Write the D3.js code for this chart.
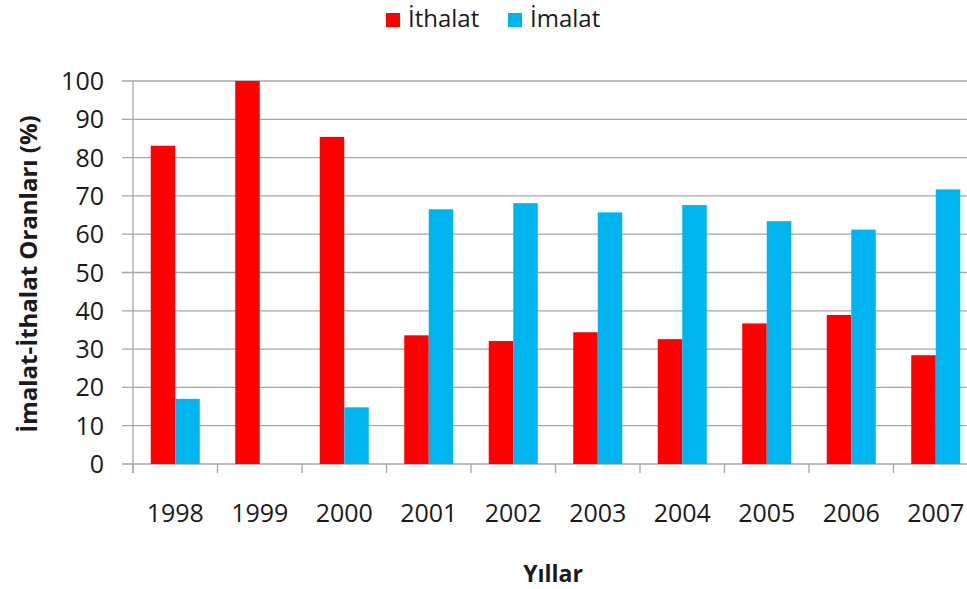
<!DOCTYPE html>
<html>
<head>
<meta charset="utf-8">
<script src="https://cdn.jsdelivr.net/npm/d3@7"></script>
<style>
  body { margin: 0; background: #fff; }
  text { font-family: "Open Sans", "DejaVu Sans", sans-serif; fill: #1a1a1a; }
</style>
</head>
<body>
<div id="chart"></div>
<script>
// Yıllara göre imalat / ithalat oranları
const years = ['1998', '1999', '2000', '2001', '2002', '2003', '2004', '2005', '2006', '2007'];
const seriesNames = ['İthalat', 'İmalat'];
const ithalat = [83.1, 100, 85.4, 33.6, 32.1, 34.4, 32.6, 36.7, 38.9, 28.4];
const imalat = [17.0, 0, 14.8, 66.5, 68.1, 65.7, 67.6, 63.4, 61.2, 71.7];
const yTicks = [0, 10, 20, 30, 40, 50, 60, 70, 80, 90, 100];
const colors = ['#ff0000', '#00b4f0'];

const width = 967, height = 589;
const plot = { left: 133, right: 978, top: 81, bottom: 464 };
const gridColor = '#a6a6a6';

const svg = d3.select('#chart')
    .append('svg')
    .attr('width', width)
    .attr('height', height);

// Scales
const x0 = d3.scaleBand()
    .domain(years)
    .range([plot.left, plot.right])
    .paddingInner(0.42)
    .paddingOuter(0.21);

const x1 = d3.scaleBand()
    .domain(seriesNames)
    .range([0, x0.bandwidth()]);

const y = d3.scaleLinear()
    .domain([0, 100])
    .range([plot.bottom, plot.top]);

// Gridlines + y tick marks
svg.append('g')
    .selectAll('line')
    .data(yTicks)
    .join('line')
    .attr('x1', plot.left - 11)
    .attr('x2', width)
    .attr('y1', d => y(d))
    .attr('y2', d => y(d))
    .attr('stroke', gridColor)
    .attr('stroke-width', 1.3);

// Y axis labels
svg.append('g')
    .selectAll('text')
    .data(yTicks)
    .join('text')
    .attr('x', 104)
    .attr('y', d => y(d))
    .attr('dy', '0.36em')
    .attr('text-anchor', 'end')
    .style('font-size', '25px')
    .text(d => d);

// Vertical axis line
svg.append('line')
    .attr('x1', plot.left).attr('x2', plot.left)
    .attr('y1', plot.top).attr('y2', plot.bottom + 9)
    .attr('stroke', gridColor)
    .attr('stroke-width', 1.3);

// Category tick marks at band boundaries
const step = x0.step();
svg.append('g')
    .selectAll('line')
    .data(years)
    .join('line')
    .attr('x1', d => x0(d) - step * 0.21)
    .attr('x2', d => x0(d) - step * 0.21)
    .attr('y1', plot.bottom)
    .attr('y2', plot.bottom + 9)
    .attr('stroke', gridColor)
    .attr('stroke-width', 1.3);

// Bars
const rows = years.map((yr, i) => ({ year: yr, values: [ithalat[i], imalat[i]] }));

svg.append('g')
    .selectAll('g')
    .data(rows)
    .join('g')
    .attr('transform', d => `translate(${x0(d.year)},0)`)
    .selectAll('rect')
    .data(d => d.values.map((v, k) => ({ key: seriesNames[k], value: v, k })))
    .join('rect')
    .attr('x', d => x1(d.key))
    .attr('width', x1.bandwidth())
    .attr('y', d => y(d.value))
    .attr('height', d => y(0) - y(d.value))
    .attr('fill', d => colors[d.k]);

// X axis labels
svg.append('g')
    .selectAll('text')
    .data(years)
    .join('text')
    .attr('x', d => x0(d) + x0.bandwidth() / 2)
    .attr('y', 522)
    .attr('text-anchor', 'middle')
    .style('font-size', '25px')
    .text(d => d);

// Axis titles
svg.append('text')
    .attr('x', 553)
    .attr('y', 582)
    .attr('text-anchor', 'middle')
    .style('font-size', '23px')
    .style('font-weight', 'bold')
    .text('Yıllar');

svg.append('text')
    .attr('transform', 'translate(37, 274) rotate(-90)')
    .attr('text-anchor', 'middle')
    .style('font-size', '24px')
    .style('font-weight', 'bold')
    .text('İmalat-İthalat Oranları (%)');

// Legend
const legendX = [386, 508];
const legend = svg.append('g')
    .selectAll('g')
    .data(seriesNames)
    .join('g')
    .attr('transform', (d, i) => `translate(${legendX[i]}, 13)`);

legend.append('rect')
    .attr('width', 14)
    .attr('height', 14)
    .attr('fill', (d, i) => colors[i]);

legend.append('text')
    .attr('x', 22)
    .attr('y', 14)
    .style('font-size', '24px')
    .text(d => d);
</script>
</body>
</html>
